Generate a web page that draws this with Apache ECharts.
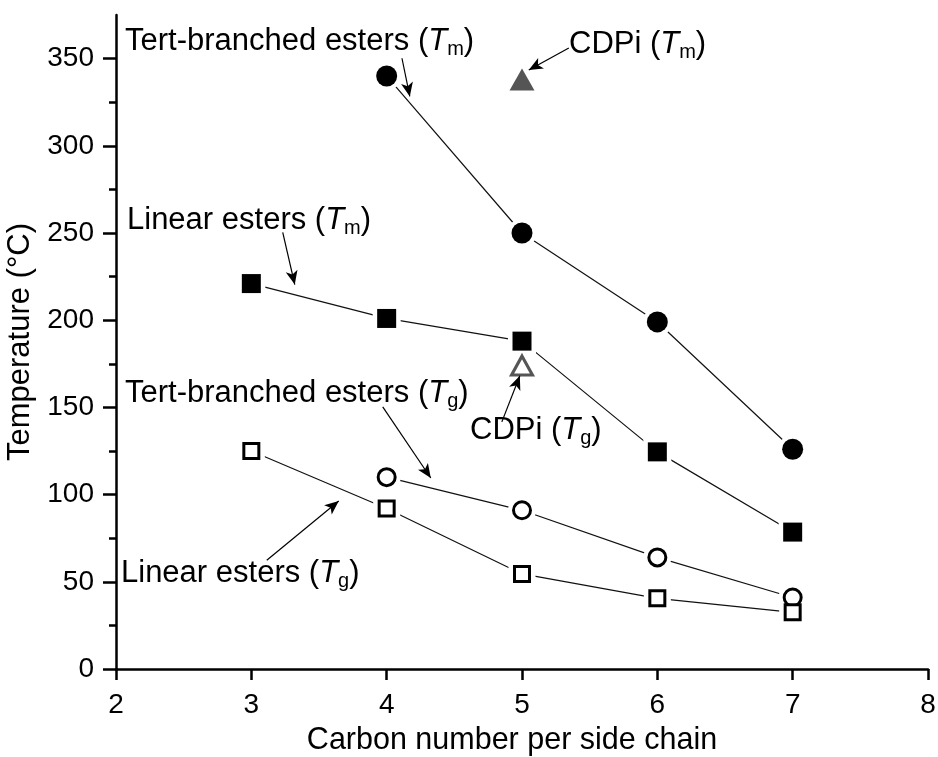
<!DOCTYPE html>
<html>
<head>
<meta charset="utf-8">
<script src="https://cdn.jsdelivr.net/npm/echarts@6/dist/echarts.min.js"></script>
<style>
html,body{margin:0;padding:0;background:#fff;}
#chart{width:938px;height:757px;}
</style>
</head>
<body>
<div id="chart"></div>
<script>
// ---- data ----
var carbonNumbers = [3, 4, 5, 6, 7];
var tertTm = [null, 340, 250, 199, 126];
var linearTm = [221, 201, 188, 124.5, 78.5];
var tertTg = [null, 110, 91, 64, 41];
var linearTg = [125, 92, 54.5, 40.5, 32.5];
var cdpiX = [5];
var cdpiTm = [338];
var cdpiTg = [174];
var yMajorTicks = [0, 50, 100, 150, 200, 250, 300, 350];
var yMinorTicks = [25, 75, 125, 175, 225, 275, 325];

function pairs(xs, ys) {
  var out = [];
  for (var i = 0; i < xs.length; i++) {
    if (ys[i] !== null && ys[i] !== undefined) out.push([xs[i], ys[i]]);
  }
  return out;
}

var FONT = '"Liberation Sans", Arial, sans-serif';
var chart = echarts.init(document.getElementById('chart'), null, {renderer: 'canvas'});

function richLabel(main, sub) {
  return '{a|' + main + ' (}{i|T}{s|' + sub + '}{a|)}';
}
var richStyle = {
  a: {fontSize: 31, fontFamily: FONT, lineHeight: 36, color: '#000'},
  i: {fontSize: 31, fontFamily: FONT, fontStyle: 'italic', lineHeight: 36, color: '#000'},
  s: {fontSize: 20, fontFamily: FONT, lineHeight: 9, verticalAlign: 'bottom', color: '#000'}
};
function annot(x, y, main, sub) {
  return {
    type: 'text', x: x, y: y, z: 10,
    style: {text: richLabel(main, sub), rich: richStyle, font: '31px ' + FONT, verticalAlign: 'middle', align: 'left'}
  };
}

// annotation arrows in data coordinates
var arrows = [
  [[4.113, 350.2], [4.171, 328.3]],
  [[3.232, 250.3], [3.321, 220.4]],
  [[5.346, 356.1], [5.050, 343.5]],
  [[3.971, 150.3], [4.326, 109.5]],
  [[3.114, 62.4], [3.646, 96.3]],
  [[4.851, 141.7], [4.984, 168.1]]
];

function lineSeries(data) {
  return {type: 'line', data: data, symbol: 'none', z: 1, silent: true,
    lineStyle: {color: '#111', width: 1.2}, clip: false};
}
function halo(data, size, sym) {
  return {type: 'scatter', data: data, symbol: sym || 'circle', symbolSize: size, z: 2, silent: true,
    itemStyle: {color: '#fff', opacity: 1}};
}
function marker(data, sym, size, fill, stroke, bw) {
  return {type: 'scatter', data: data, symbol: sym, symbolSize: size, z: 3, silent: true,
    itemStyle: {color: fill, borderColor: stroke, borderWidth: bw, opacity: 1}};
}

var option = {
  backgroundColor: '#fff',
  animation: false,
  grid: {left: 116, right: 10, top: 15, bottom: 88, containLabel: false, outerBoundsMode: 'none'},
  xAxis: {
    type: 'value', min: 2, max: 8, interval: 1,
    name: 'Carbon number per side chain', nameLocation: 'middle', nameGap: 56,
    nameTextStyle: {fontSize: 30.5, fontFamily: FONT, color: '#000', padding: [0, 20, 0, 0]},
    axisLine: {show: true, lineStyle: {color: '#000', width: 2.5}},
    axisTick: {show: true, inside: false, length: 11, lineStyle: {color: '#000', width: 2.5}},
    axisLabel: {fontSize: 28, fontFamily: FONT, color: '#000', margin: 22},
    splitLine: {show: false}
  },
  yAxis: [{
    type: 'value', min: 0, max: 375, interval: 50,
    name: 'Temperature (°C)', nameLocation: 'middle', nameGap: 78, nameRotate: 90,
    nameTextStyle: {fontSize: 31, fontFamily: FONT, color: '#000'},
    axisLine: {show: true, lineStyle: {color: '#000', width: 2.5}},
    axisTick: {show: true, inside: false, length: 13, customValues: yMajorTicks, lineStyle: {color: '#000', width: 2.5}},
    axisLabel: {fontSize: 28, fontFamily: FONT, color: '#000', margin: 22, customValues: yMajorTicks},
    splitLine: {show: false}
  }, {
    type: 'value', min: 0, max: 375, interval: 25, position: 'left',
    axisLine: {show: false},
    axisTick: {show: true, inside: false, length: 7, customValues: yMinorTicks, lineStyle: {color: '#000', width: 2.5}},
    axisLabel: {show: false},
    splitLine: {show: false}
  }],
  graphic: [
    annot(125, 41, 'Tert-branched esters', 'm'),
    annot(569, 44, 'CDPi', 'm'),
    annot(127, 220, 'Linear esters', 'm'),
    annot(125, 393, 'Tert-branched esters', 'g'),
    annot(470, 430, 'CDPi', 'g'),
    annot(121, 573, 'Linear esters', 'g')
  ],
  series: [
    lineSeries(pairs(carbonNumbers, tertTm)),
    lineSeries(pairs(carbonNumbers, linearTm)),
    lineSeries(pairs(carbonNumbers, tertTg)),
    lineSeries(pairs(carbonNumbers, linearTg)),
    {
      type: 'line', data: [], z: 4, silent: true,
      markLine: {
        silent: true, symbol: ['none', 'arrow'], symbolSize: [9, 14],
        label: {show: false},
        lineStyle: {color: '#000', width: 1.2, type: 'solid'},
        data: arrows.map(function (a) { return [{coord: a[0]}, {coord: a[1]}]; })
      }
    },
    halo(pairs(carbonNumbers, tertTm), 29),
    halo(pairs(carbonNumbers, linearTm), 28, 'rect'),
    halo(pairs(carbonNumbers, tertTg), 28),
    halo(pairs(carbonNumbers, linearTg), 27, 'rect'),
    halo(pairs(cdpiX, cdpiTg), 31, 'triangle'),
    marker(pairs(carbonNumbers, tertTm), 'circle', 21, '#000', '#000', 0),
    marker(pairs(carbonNumbers, linearTm), 'rect', 19, '#000', '#000', 0),
    marker(pairs(carbonNumbers, tertTg), 'circle', 17, '#fff', '#000', 3),
    marker(pairs(carbonNumbers, linearTg), 'rect', 15, '#fff', '#000', 3),
    marker(pairs(cdpiX, cdpiTm), 'triangle', [25, 22], '#555', '#555', 0),
    marker(pairs(cdpiX, cdpiTg), 'triangle', [21, 19], '#fff', '#555', 3)
  ]
};
chart.setOption(option);
</script>
</body>
</html>
